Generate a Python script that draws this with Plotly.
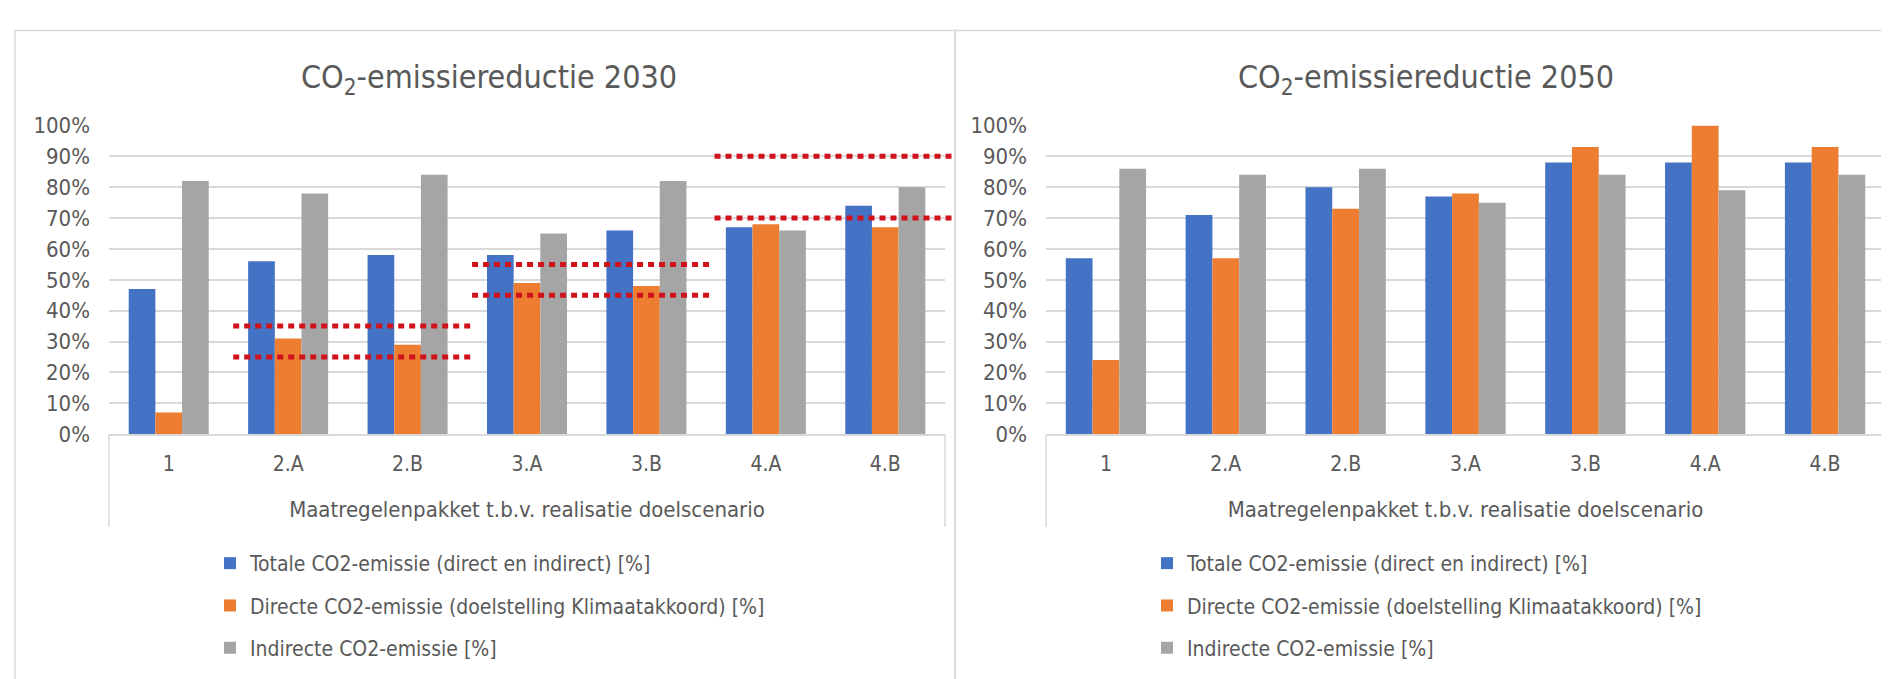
import plotly.graph_objects as go

# ---------------- data ----------------
categories = ["1", "2.A", "2.B", "3.A", "3.B", "4.A", "4.B"]
series_names = [
    "Totale CO2-emissie (direct en indirect) [%]",
    "Directe CO2-emissie (doelstelling Klimaatakkoord) [%]",
    "Indirecte CO2-emissie [%]",
]
totale_2030 = [0.47, 0.56, 0.58, 0.58, 0.66, 0.67, 0.74]
directe_2030 = [0.07, 0.31, 0.29, 0.49, 0.48, 0.68, 0.67]
indirecte_2030 = [0.82, 0.78, 0.84, 0.65, 0.82, 0.66, 0.80]

totale_2050 = [0.57, 0.71, 0.80, 0.77, 0.88, 0.88, 0.88]
directe_2050 = [0.24, 0.57, 0.73, 0.78, 0.93, 1.00, 0.93]
indirecte_2050 = [0.86, 0.84, 0.86, 0.75, 0.84, 0.79, 0.84]

# target bands drawn over the 2030 chart (category-axis positions and values)
band_start = [0.54, 2.54, 4.57]
band_end = [2.54, 4.54, 6.58]
band_low = [0.25, 0.45, 0.70]
band_high = [0.35, 0.55, 0.90]

titles = ["CO<sub>2</sub>-emissiereductie 2030", "CO<sub>2</sub>-emissiereductie 2050"]
axis_title = "Maatregelenpakket t.b.v. realisatie doelscenario"

colors = ["#4472C4", "#ED7D31", "#A5A5A5"]
FONT = "Liberation Sans Narrow, Arial Narrow, DejaVu Sans Condensed, sans-serif"
TXT = "#595959"
GRID = "#D9D9D9"

W, H = 1889, 679

fig = go.Figure()

for panel, (vals, xa, ya, lg) in enumerate([
    ([totale_2030, directe_2030, indirecte_2030], "x", "y", "legend"),
    ([totale_2050, directe_2050, indirecte_2050], "x2", "y2", "legend2"),
]):
    for name, v, c in zip(series_names, vals, colors):
        fig.add_trace(go.Bar(
            x=categories, y=v, name=name, marker_color=c, marker_line_width=0,
            xaxis=xa, yaxis=ya, legend=lg, legendgroup=name + lg,
            hovertemplate="%{x}: %{y:.0%}<extra>" + name + "</extra>",
        ))

ydom = [1 - 430 / H, 1 - 109.5 / H]
xdoms = [[101 / W, 937 / W], [1038 / W, 1877 / W]]

def yaxis_cfg():
    return dict(
        domain=ydom, range=[0, 1], dtick=0.1, tickformat=".0%",
        showgrid=True, gridcolor=GRID, gridwidth=1.5, zeroline=False,
        showline=False, ticks="", ticklabelstandoff=18,
        tickfont=dict(family=FONT, size=22, color=TXT), fixedrange=True,
    )

def xaxis_cfg(dom, anchor):
    return dict(
        domain=dom, type="category", anchor=anchor,
        showline=True, linecolor=GRID, linewidth=1.5, showgrid=False,
        ticks="", ticklabelstandoff=10,
        tickfont=dict(family=FONT, size=21, color=TXT),
        title=dict(text=axis_title, standoff=26,
                   font=dict(family=FONT, size=22, color=TXT)),
        fixedrange=True,
    )

leg_common = dict(
    orientation="v", xanchor="left", yanchor="top", y=1 - 543 / H,
    font=dict(family=FONT, size=21, color=TXT), bgcolor="rgba(0,0,0,0)",
    traceorder="grouped", tracegroupgap=12, itemclick=False, itemdoubleclick=False,
)

fig.update_layout(
    width=W, height=H, margin=dict(l=0, r=0, t=0, b=0),
    paper_bgcolor="white", plot_bgcolor="white",
    barmode="group", bargap=0.33, bargroupgap=0,
    xaxis=xaxis_cfg(xdoms[0], "y"), yaxis=yaxis_cfg(),
    xaxis2=xaxis_cfg(xdoms[1], "y2"),
    yaxis2=dict(yaxis_cfg(), anchor="x2"),
    legend=dict(leg_common, x=202 / W),
    legend2=dict(leg_common, x=(202 + 937) / W),
    showlegend=True,
)
fig.layout.yaxis.anchor = "x"
fig.layout.yaxis2.anchor = "x2"

shapes = []
# panel borders
shapes.append(dict(type="rect", xref="paper", yref="paper", x0=7 / W, x1=947 / W,
                   y0=-0.1, y1=1 - 11 / H, line=dict(color=GRID, width=1.5), layer="below"))
shapes.append(dict(type="rect", xref="paper", yref="paper", x0=947 / W, x1=1.1,
                   y0=-0.1, y1=1 - 11 / H, line=dict(color=GRID, width=1.5), layer="below"))
# multi-level category box sides
box_depth = -(526 - 430) / (430 - 109.5)
for xa, ya in [("x", "y"), ("x2", "y2")]:
    for xv in (0, 1):
        shapes.append(dict(type="line", xref=xa + " domain", yref=ya + " domain",
                           x0=xv, x1=xv, y0=box_depth, y1=0,
                           line=dict(color=GRID, width=1.5)))
# red dotted target bands (2030)
ncat = len(categories)
for s, e, lo, hi in zip(band_start, band_end, band_low, band_high):
    for v in (lo, hi):
        shapes.append(dict(type="line", xref="x domain", yref="y domain",
                           x0=(s + 0.5) / ncat, x1=(e + 0.5) / ncat, y0=v, y1=v,
                           line=dict(color="#D0121B", width=5, dash="6px,5px")))
fig.update_layout(shapes=shapes)

annotations = []
for t, xc in zip(titles, [481, 1418]):
    annotations.append(dict(text=t, xref="paper", yref="paper", x=xc / W, y=1 - 61 / H,
                            xanchor="center", yanchor="middle", showarrow=False,
                            font=dict(family=FONT, size=32, color=TXT)))
fig.update_layout(annotations=annotations)

fig.write_html("out.html")
